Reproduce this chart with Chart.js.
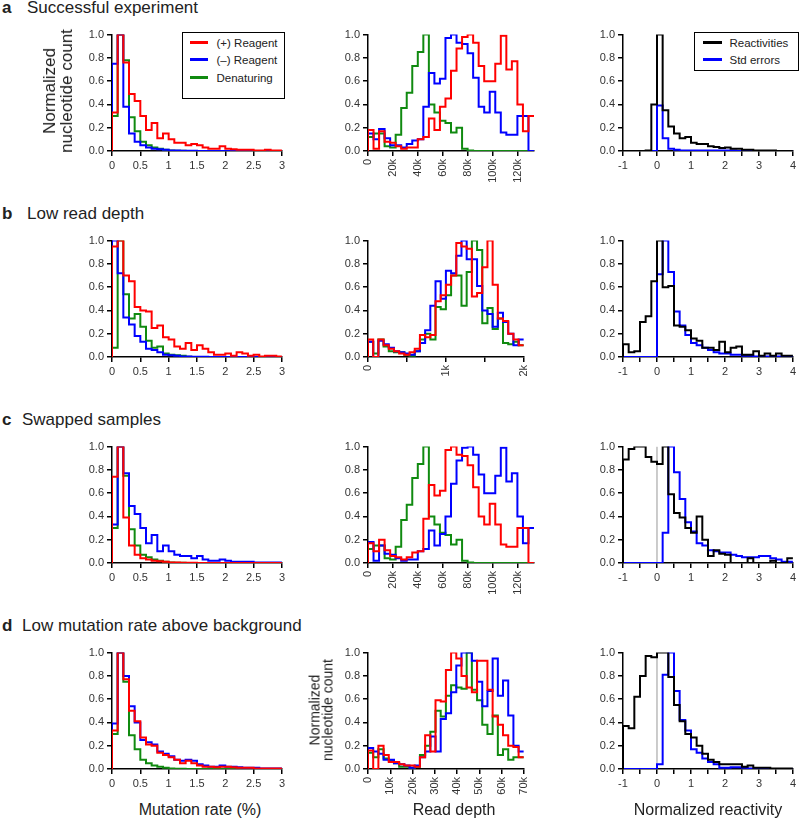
<!DOCTYPE html>
<html>
<head>
<meta charset="utf-8">
<script src="https://cdn.jsdelivr.net/npm/chart.js@4.4.0/dist/chart.umd.min.js"></script>
<style>
  body { margin: 0; width: 800px; height: 821px; background: #fff; overflow: hidden; position: relative;
         font-family: Arial, "Liberation Sans", sans-serif; color: #222; }
  canvas { position: absolute; }
  .txt { position: absolute; white-space: nowrap; }
  .letter { font-weight: bold; font-size: 17px; line-height: 20px; left: 2px; }
  .title { font-size: 17px; line-height: 20px; }
  .xtitle { font-size: 16px; line-height: 20px; transform: translateX(-50%); top: 800px; }
  .rot { transform: translate(-50%, -50%) rotate(-90deg); text-align: center; }
  .legend { position: absolute; box-sizing: border-box; border: 1.5px solid #000; background: #fff; z-index: 5; }
  .legend .ln { position: absolute; height: 2.5px; }
  .legend .lt { position: absolute; font-size: 11.5px; line-height: 14px; white-space: nowrap; }
</style>
</head>
<body>

<script>
// Axis ranges (30 bins per histogram)
const MUT_MIN = 0, MUT_MAX = 3;
const REACT_MIN = -1, REACT_MAX = 4;
const DEPTH_MAX_AC = 133000, DEPTH_MAX_B = 2000, DEPTH_MAX_D = 70000;

// Tick positions
const yTicks = [0, 0.2, 0.4, 0.6, 0.8, 1.0];
const mutTicks = [0, 0.5, 1, 1.5, 2, 2.5, 3];
const reactTicks = [-1, -0.5, 0, 0.5, 1, 1.5, 2, 2.5, 3, 3.5, 4];
const depthTicksAC = [0, 20000, 40000, 60000, 80000, 100000, 120000];
const depthTicksB = [0, 500, 1000, 1500, 2000];
const depthTicksD = [0, 10000, 20000, 30000, 40000, 50000, 60000, 70000];

// Row a - successful experiment
const aMutPlus = [0.33,1.0,0.76,0.49,0.43,0.30,0.18,0.24,0.11,0.15, 0.10,0.07,0.07,0.05,0.06,0.05,0.03,0.02,0.02,0.04, 0.02,0.015,0.01,0.01,0.01,0.005,0.005,0.01,0.005,0.005];
const aMutMinus = [0.75,1.0,0.38,0.15,0.08,0.05,0.03,0.02,0.015,0.01, 0.005,0.005,0.003,0.002,0.002,0.001,0.001,0,0,0, 0,0,0,0,0,0,0,0,0,0];
const aMutDenat = [0.3,1.0,0.78,0.29,0.17,0.08,0.05,0.03,0.02,0.01, 0.005,0.003,0.002,0.001,0,0,0,0,0,0, 0,0,0,0,0,0,0,0,0,0];
const aDepthPlus = [0.18,0.02,0.17,0.08,0.07,0.04,0.02,0.03,0.03,0.10, 0.12,0.28,0.18,0.38,0.45,0.69,0.88,0.98,1.0,0.93, 0.73,0.60,0.60,0.75,0.99,0.70,0.77,0.40,0.17,0.30];
const aDepthMinus = [0.15,0.10,0.19,0.11,0.05,0.05,0.03,0.06,0.09,0.10, 0.38,0.67,0.58,0.62,0.97,1.0,0.93,0.92,0.84,0.63, 0.38,0.33,0.51,0.33,0.16,0.14,0.14,0.30,0.30,0.0];
const aDepthDenat = [0.12,0.15,0.15,0.04,0.03,0.14,0.37,0.50,0.73,0.85, 1.0,0.40,0.33,0.26,0.24,0.16,0.20,0.02,0.005,0, 0,0,0,0,0,0,0,0,0,0];
const aReact = [0,0,0,0,0.005,0.40,1.0,0.35,0.21,0.15, 0.11,0.12,0.07,0.06,0.06,0.04,0.035,0.025,0.03,0.02, 0.02,0.01,0.01,0.005,0.005,0.005,0.005,0,0,0];
const aStdErr = [0,0,0,0,0,0,0.39,0.11,0.02,0.01, 0.005,0.005,0.005,0.005,0.005,0.005,0.005,0.005,0.005,0.005, 0,0,0,0,0,0,0,0,0,0];

// Row b - low read depth
const bMutPlus = [0.95,1.0,0.70,0.65,0.43,0.40,0.39,0.25,0.27,0.17, 0.15,0.09,0.07,0.12,0.06,0.10,0.07,0.04,0.02,0.02, 0.03,0.01,0.04,0.03,0.01,0.02,0.005,0.01,0.01,0.005];
const bMutMinus = [1.0,0.72,0.34,0.28,0.18,0.13,0.07,0.06,0.04,0.02, 0.015,0.01,0.005,0.005,0.003,0.002,0.002,0.001,0,0, 0,0,0,0,0,0,0,0,0,0];
const bMutDenat = [0.08,1.0,0.54,0.33,0.37,0.26,0.14,0.08,0.09,0.03, 0.02,0.015,0.01,0.003,0,0,0,0,0,0, 0,0,0,0,0,0,0,0,0,0];
const bDepthPlus = [0.15,0.0,0.15,0.10,0.07,0.05,0.03,0.02,0.04,0.07, 0.19,0.17,0.19,0.48,0.53,0.62,0.70,0.98,0.95,0.93, 0.52,0.55,0.77,1.0,0.62,0.33,0.31,0.20,0.15,0.10];
const bDepthMinus = [0.13,0.0,0.14,0.11,0.08,0.05,0.04,0.03,0.02,0.05, 0.12,0.23,0.44,0.65,0.50,0.74,0.72,0.87,1.0,0.84, 0.84,0.61,0.40,0.37,0.26,0.38,0.30,0.20,0.10,0.15];
const bDepthDenat = [0.13,0.03,0.15,0.09,0.05,0.04,0.04,0.02,0.01,0.05, 0.15,0.20,0.15,0.43,0.41,0.53,0.70,0.70,0.44,0.73, 1.0,0.92,0.29,0.42,0.24,0.33,0.12,0.11,0.13,0.10];
const bReact = [0.11,0.04,0.05,0.30,0.35,0.65,1.0,0.60,0.61,0.27, 0.26,0.23,0.16,0.14,0.08,0.08,0.06,0.13,0.04,0.08, 0.09,0.02,0.02,0.05,0.01,0.03,0.01,0.03,0.01,0.01];
const bStdErr = [0,0,0,0,0,0,0.71,1.0,0.73,0.39, 0.27,0.19,0.12,0.10,0.08,0.06,0.04,0.03,0.03,0.02, 0.02,0.01,0.01,0.005,0.005,0.005,0.005,0.005,0.005,0.005];

// Row c - swapped samples
const cMutPlus = [0.74,1.0,0.39,0.15,0.07,0.04,0.03,0.02,0.015,0.01, 0.005,0.005,0.003,0.002,0.002,0.001,0.001,0,0,0, 0,0,0,0,0,0,0,0,0,0];
const cMutMinus = [0.33,1.0,0.77,0.49,0.42,0.30,0.17,0.24,0.10,0.15, 0.10,0.07,0.06,0.06,0.04,0.06,0.03,0.02,0.02,0.03, 0.02,0.01,0.01,0.01,0.01,0.005,0.005,0.005,0.005,0.005];
const cMutDenat = [0.3,1.0,0.75,0.29,0.15,0.07,0.05,0.03,0.02,0.01, 0.005,0.003,0.002,0,0,0,0,0,0,0, 0,0,0,0,0,0,0,0,0,0];
const cDepthPlus = [0.17,0.10,0.20,0.11,0.06,0.05,0.03,0.05,0.09,0.10, 0.38,0.67,0.58,0.62,0.97,1.0,0.93,0.92,0.84,0.65, 0.40,0.33,0.51,0.33,0.16,0.14,0.14,0.30,0.30,0.0];
const cDepthMinus = [0.18,0.02,0.15,0.08,0.07,0.04,0.02,0.03,0.03,0.10, 0.12,0.28,0.15,0.25,0.40,0.68,0.88,0.99,1.0,0.93, 0.76,0.60,0.60,0.75,0.99,0.70,0.77,0.40,0.17,0.30];
const cDepthDenat = [0.12,0.15,0.15,0.04,0.03,0.14,0.37,0.50,0.73,0.85, 1.0,0.40,0.33,0.26,0.24,0.16,0.20,0.02,0.005,0, 0,0,0,0,0,0,0,0,0,0];
const cReact = [0.89,0.98,1.0,1.0,0.91,0.87,0.85,1.0,0.59,0.43, 0.39,0.30,0.26,0.40,0.20,0.06,0.11,0.08,0.07,0, 0,0,0.04,0,0,0,0.02,0,0,0.04];
const cStdErr = [0,0,0,0,0,0,0,0.26,1.0,0.78, 0.55,0.35,0.27,0.17,0.15,0.11,0.10,0.09,0.09,0.07, 0.06,0.05,0.05,0.05,0.06,0.06,0.04,0.03,0.01,0.01];

// Row d - low mutation rate above background
const dMutPlus = [0.33,1.0,0.77,0.50,0.41,0.27,0.21,0.20,0.14,0.12, 0.10,0.08,0.05,0.07,0.05,0.03,0.02,0.02,0.015,0.02, 0.02,0.015,0.01,0.01,0.01,0.005,0.005,0.005,0.005,0.005];
const dMutMinus = [0.39,1.0,0.80,0.54,0.40,0.25,0.23,0.21,0.15,0.13, 0.11,0.08,0.07,0.08,0.07,0.04,0.03,0.02,0.02,0.03, 0.02,0.02,0.015,0.01,0.01,0.01,0.005,0.005,0.005,0.005];
const dMutDenat = [0.3,1.0,0.75,0.29,0.17,0.08,0.05,0.03,0.02,0.01, 0.005,0.003,0.002,0,0,0,0,0,0,0, 0,0,0,0,0,0,0,0,0,0];
const dDepthPlus = [0.16,0.0,0.20,0.12,0.06,0.06,0.04,0.03,0.03,0.02, 0.10,0.29,0.15,0.59,0.58,0.85,1.0,0.95,0.80,0.70, 0.66,0.93,0.93,0.68,0.45,0.38,0.29,0.20,0.19,0.10];
const dDepthMinus = [0.18,0.15,0.13,0.08,0.08,0.05,0.04,0.03,0.01,0.03, 0.10,0.15,0.28,0.15,0.43,0.48,0.66,0.89,1.0,1.0, 0.93,0.75,0.54,0.67,0.95,0.63,0.76,0.46,0.20,0.15];
const dDepthDenat = [0.14,0.10,0.17,0.09,0.07,0.05,0.02,0.02,0.01,0.02, 0.12,0.20,0.32,0.50,0.45,0.63,0.72,0.70,0.69,1.0, 0.68,0.59,0.38,0.30,0.46,0.12,0.17,0.08,0.10,0.10];
const dReact = [0.37,0.35,0.62,0.80,0.97,0.96,1.0,1.0,0.79,0.55, 0.41,0.30,0.27,0.20,0.13,0.08,0.06,0.04,0.04,0.04, 0.04,0.02,0.03,0.01,0.01,0.01,0.005,0.005,0.005,0.005];
const dStdErr = [0,0,0,0,0,0,0.04,0.81,1.0,0.67, 0.42,0.33,0.17,0.14,0.09,0.06,0.04,0.01,0.01,0.015, 0.015,0.01,0.005,0,0,0,0,0,0,0];

// Layout of the plot areas
const rowTops = [33, 239, 445, 651];
const PLOT_H = 118;
const colLeft = [112, 368, 623];
const colWidth = [170, 166, 170];

const RED = "#ff0000", BLUE = "#0000ff", GREEN = "#108a10", BLACK = "#000000";

Chart.defaults.font.family = 'Arial, "Liberation Sans", sans-serif';
Chart.defaults.font.size = 11;
Chart.defaults.color = "#333";

// step histogram points: rise from 0 at the first edge, flat to the last edge
function histPoints(min, max, values) {
  const w = (max - min) / values.length;
  const pts = [{ x: min, y: 0 }];
  values.forEach((v, i) => pts.push({ x: min + i * w, y: v }));
  pts.push({ x: max, y: values[values.length - 1] });
  return pts;
}

function series(min, max, values, color) {
  return { data: histPoints(min, max, values), borderColor: color, borderWidth: 2, stepped: true, fill: false };
}

function zeroLine() {
  return { data: [{ x: 0, y: 0 }, { x: 0, y: 1 }], borderColor: "#999", borderWidth: 1, stepped: false };
}

function kLabel(v) {
  return v === 0 ? "0" : (v / 1000) + "k";
}

function makePanel(row, col, xAxis, datasets) {
  const padL = 40, padT = 8, padR = 6;
  const xh = xAxis.rotate ? 42 : 28;
  const L = colLeft[col], T = rowTops[row], W = colWidth[col];
  const cv = document.createElement("canvas");
  cv.width = W + padL + padR;
  cv.height = PLOT_H + padT + xh;
  cv.style.left = (L - padL) + "px";
  cv.style.top = (T - padT) + "px";
  document.body.appendChild(cv);

  new Chart(cv, {
    type: "line",
    data: { datasets },
    options: {
      responsive: false,
      animation: false,
      devicePixelRatio: 1,
      layout: { padding: { left: 0, top: padT, right: padR, bottom: 0 }, autoPadding: false },
      plugins: { legend: { display: false }, tooltip: { enabled: false } },
      elements: { point: { radius: 0 }, line: { tension: 0 } },
      scales: {
        x: {
          type: "linear",
          min: xAxis.min,
          max: xAxis.max,
          afterFit: s => { s.height = xh; },
          afterBuildTicks: s => { s.ticks = xAxis.ticks.map(v => ({ value: v })); },
          border: { display: true, color: "#000", width: 1.5 },
          grid: { drawOnChartArea: false, drawTicks: true, tickLength: 5, color: "#000", lineWidth: 1.5 },
          ticks: {
            autoSkip: false,
            padding: 3,
            minRotation: xAxis.rotate ? 90 : 0,
            maxRotation: xAxis.rotate ? 90 : 0,
            callback: xAxis.label
          }
        },
        y: {
          min: 0,
          max: 1,
          afterFit: s => { s.width = padL; },
          afterBuildTicks: s => { s.ticks = yTicks.map(v => ({ value: v })); },
          border: { display: true, color: "#000", width: 1.5 },
          grid: { drawOnChartArea: false, drawTicks: true, tickLength: 5, color: "#000", lineWidth: 1.5 },
          ticks: { padding: 3, callback: v => v.toFixed(1) }
        }
      }
    }
  });
}

// x axis set-ups
const mutAxis = { min: MUT_MIN, max: MUT_MAX, ticks: mutTicks, label: v => String(v) };
const reactAxis = { min: REACT_MIN, max: REACT_MAX, ticks: reactTicks, label: v => Number.isInteger(v) ? String(v) : "" };
const depthAxisAC = { min: 0, max: DEPTH_MAX_AC, ticks: depthTicksAC, rotate: true, label: kLabel };
const depthAxisB = { min: 0, max: DEPTH_MAX_B, ticks: depthTicksB, rotate: true, label: v => v % 1000 === 0 ? kLabel(v) : "" };
const depthAxisD = { min: 0, max: DEPTH_MAX_D, ticks: depthTicksD, rotate: true, label: kLabel };

const mutSets = [
  [aMutPlus, aMutMinus, aMutDenat],
  [bMutPlus, bMutMinus, bMutDenat],
  [cMutPlus, cMutMinus, cMutDenat],
  [dMutPlus, dMutMinus, dMutDenat]
];
const depthSets = [
  [aDepthPlus, aDepthMinus, aDepthDenat, depthAxisAC],
  [bDepthPlus, bDepthMinus, bDepthDenat, depthAxisB],
  [cDepthPlus, cDepthMinus, cDepthDenat, depthAxisAC],
  [dDepthPlus, dDepthMinus, dDepthDenat, depthAxisD]
];
const reactSets = [
  [aReact, aStdErr, false],
  [bReact, bStdErr, false],
  [cReact, cStdErr, true],
  [dReact, dStdErr, true]
];

for (let r = 0; r < 4; r++) {
  const m = mutSets[r];
  makePanel(r, 0, mutAxis, [
    series(MUT_MIN, MUT_MAX, m[0], RED),
    series(MUT_MIN, MUT_MAX, m[1], BLUE),
    series(MUT_MIN, MUT_MAX, m[2], GREEN)
  ]);

  const d = depthSets[r];
  makePanel(r, 1, d[3], [
    series(0, d[3].max, d[0], RED),
    series(0, d[3].max, d[1], BLUE),
    series(0, d[3].max, d[2], GREEN)
  ]);

  const q = reactSets[r];
  const sets = [
    series(REACT_MIN, REACT_MAX, q[0], BLACK),
    series(REACT_MIN, REACT_MAX, q[1], BLUE)
  ];
  if (q[2]) sets.push(zeroLine());
  makePanel(r, 2, reactAxis, sets);
}
</script>

<!-- panel titles -->
<div class="txt letter" style="top:-2px">a</div>
<div class="txt title" style="left:27px; top:-2px">Successful experiment</div>
<div class="txt letter" style="top:204px">b</div>
<div class="txt title" style="left:27px; top:204px">Low read depth</div>
<div class="txt letter" style="top:410px">c</div>
<div class="txt title" style="left:22px; top:410px">Swapped samples</div>
<div class="txt letter" style="top:616px">d</div>
<div class="txt title" style="left:22px; top:616px">Low mutation rate above background</div>

<!-- axis titles -->
<div class="txt rot" style="left:58px; top:91px; font-size:17px; line-height:17px;">Normalized<br>nucleotide count</div>
<div class="txt rot" style="left:321px; top:710px; font-size:14px; line-height:12.5px;">Normalized<br>nucleotide count</div>
<div class="txt xtitle" style="left:200px">Mutation rate (%)</div>
<div class="txt xtitle" style="left:454px">Read depth</div>
<div class="txt xtitle" style="left:708px">Normalized reactivity</div>

<!-- legends -->
<div class="legend" style="left:182px; top:32px; width:103px; height:67px;">
  <div class="ln" style="left:6.5px; top:8.3px; width:18px; background:#ff0000;"></div>
  <div class="lt" style="left:33.5px; top:2.5px;">(+) Reagent</div>
  <div class="ln" style="left:6.5px; top:25.3px; width:18px; background:#0000ff;"></div>
  <div class="lt" style="left:33.5px; top:19.5px;">(–) Reagent</div>
  <div class="ln" style="left:6.5px; top:43.3px; width:18px; background:#108a10;"></div>
  <div class="lt" style="left:33.5px; top:37.5px;">Denaturing</div>
</div>
<div class="legend" style="left:694px; top:32px; width:105px; height:39px;">
  <div class="ln" style="left:7.5px; top:8.3px; width:19px; background:#000;"></div>
  <div class="lt" style="left:34.5px; top:2.5px;">Reactivities</div>
  <div class="ln" style="left:7.5px; top:25.3px; width:19px; background:#0000ff;"></div>
  <div class="lt" style="left:34.5px; top:19.5px;">Std errors</div>
</div>

</body>
</html>
